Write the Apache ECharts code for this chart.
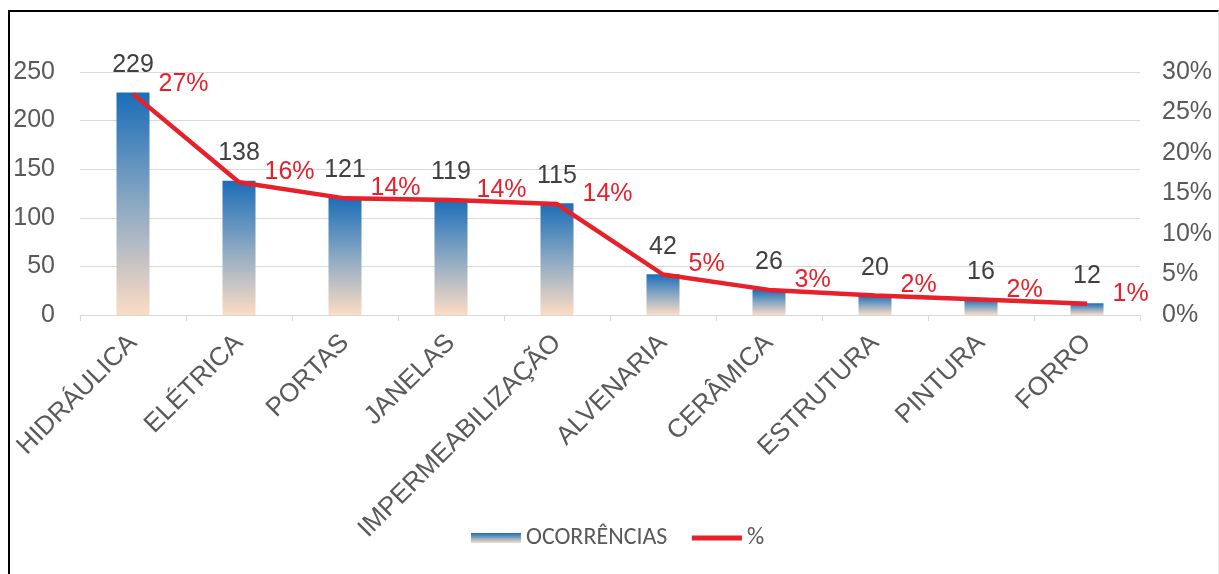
<!DOCTYPE html>
<html>
<head>
<meta charset="utf-8">
<script src="https://cdn.jsdelivr.net/npm/echarts@6/dist/echarts.min.js"></script>
<style>
html,body{margin:0;padding:0;background:#fff;}
#chart{position:absolute;left:0;top:0;width:1219px;height:574px;}
#frame{position:absolute;left:8px;top:10px;width:1208px;height:600px;border-top:2px solid #000;border-left:2px solid #000;border-right:1px solid #e6e6e6;pointer-events:none;}
</style>
</head>
<body>
<div id="chart"></div>
<div id="frame"></div>
<script>
const categories = ['HIDRÁULICA','ELÉTRICA','PORTAS','JANELAS','IMPERMEABILIZAÇÃO','ALVENARIA','CERÂMICA','ESTRUTURA','PINTURA','FORRO'];
const occurrences = [229,138,121,119,115,42,26,20,16,12];
const percent = [0.273,0.164,0.144,0.142,0.137,0.050,0.031,0.024,0.019,0.014];
const leftTicks = [0,50,100,150,200,250];
const rightTicks = ['0%','5%','10%','15%','20%','25%','30%'];

const FONT = '"Liberation Sans", Arial, sans-serif';
const chart = echarts.init(document.getElementById('chart'), null, {renderer:'canvas'});
const barGrad = new echarts.graphic.LinearGradient(0,0,0,1,[
  {offset:0,color:'#1a6db8'},
  {offset:0.5,color:'#8aa8c3'},
  {offset:1,color:'#fcdcc4'}
]);
chart.setOption({
  animation:false,
  backgroundColor:'#fff',
  grid:{left:80,right:79,top:72,bottom:259,containLabel:false},
  legend:{
    left:471, top:526, padding:0,
    itemWidth:50, itemHeight:10, itemGap:22,
    textStyle:{fontFamily:'Carlito, "Liberation Sans", sans-serif',fontSize:24,color:'#595959'},
    data:[{name:'OCORRÊNCIAS',icon:'rect'},
          {name:'%',itemStyle:{color:'rgba(0,0,0,0)',borderWidth:0},lineStyle:{width:5,color:'#e8202a'}}]
  },
  xAxis:{
    type:'category',
    data:categories,
    boundaryGap:true,
    axisLine:{lineStyle:{color:'#d9d9d9',width:1}},
    axisTick:{show:true,length:6,lineStyle:{color:'#d9d9d9'}},
    axisLabel:{rotate:45,interval:0,margin:24,fontSize:26,color:'#595959',fontFamily:FONT}
  },
  yAxis:[
    {type:'value',min:leftTicks[0],max:leftTicks[leftTicks.length-1],interval:50,
     axisLine:{show:false},axisTick:{show:false},
     splitLine:{lineStyle:{color:'#d9d9d9',width:1}},
     axisLabel:{margin:25,fontSize:25,color:'#595959',fontFamily:FONT}},
    {type:'value',min:0,max:0.30,interval:0.05,
     axisLine:{show:false},axisTick:{show:false},splitLine:{show:false},
     axisLabel:{margin:22,fontSize:25,color:'#595959',fontFamily:FONT,
       formatter:function(v){return rightTicks[Math.round(v/0.05)];}}}
  ],
  series:[
    {name:'OCORRÊNCIAS',type:'bar',data:occurrences,barWidth:33,
     itemStyle:{color:barGrad},
     label:{show:true,position:'top',distance:15,fontSize:25,color:'#404040',fontFamily:FONT}},
    {name:'%',type:'line',yAxisIndex:1,data:percent,
     symbol:'circle',symbolSize:1,
     itemStyle:{color:'#e8202a'},
     lineStyle:{color:'#e8202a',width:4.5},
     label:{show:true,position:'right',distance:25,offset:[0,-10],fontSize:25,color:'#e8202a',fontFamily:FONT,
       formatter:function(p){return Math.round(p.value*100)+'%';}}}
  ]
});
</script>
</body>
</html>
